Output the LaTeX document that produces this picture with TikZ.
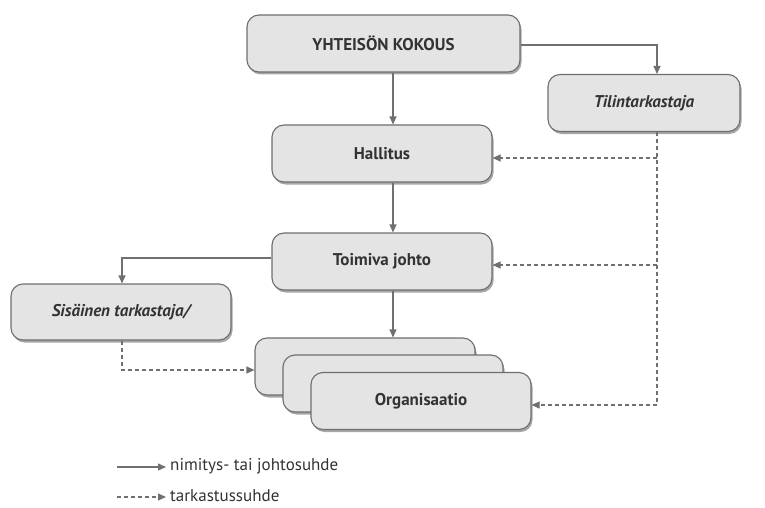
\documentclass[tikz,border=0pt]{standalone}
\usepackage{fontspec}
\setmainfont{PT Sans}
\usetikzlibrary{arrows.meta,shadows}
\definecolor{boxfill}{HTML}{E4E4E4}
\definecolor{boxline}{HTML}{6E6E6E}
\definecolor{linecol}{HTML}{707070}
\definecolor{txt}{HTML}{333333}
\begin{document}
\begin{tikzpicture}[x=1pt,y=-1pt,
  orgbox/.style={draw=boxline,line width=1.1pt,fill=boxfill,rounded corners=12pt,
    minimum width=220pt,minimum height=57pt,inner sep=0pt,text=txt,font=\fontsize{17}{20}\selectfont\bfseries,
    drop shadow={shadow xshift=1.5pt,shadow yshift=-2.5pt,opacity=0.35,fill=black}},
  conn/.style={draw=linecol,line width=1.1pt,-{Triangle[length=8pt,width=7pt]}},
  dconn/.style={conn,dashed,dash pattern=on 4pt off 3pt}]
\useasboundingbox (0,0) rectangle (765,508);
\node[orgbox,minimum width=273pt] (yk) at (383.5,43.5) {YHTEISÖN KOKOUS};
\node[orgbox,minimum width=192pt,font=\fontsize{17}{20}\selectfont\bfseries\itshape] (tt) at (644,103) {Tilintarkastaja};
\node[orgbox] (hal) at (382,153.5) {Hallitus};
\node[orgbox] (tj) at (382,261.5) {Toimiva johto};
\node[orgbox,minimum width=220pt,minimum height=56pt,font=\fontsize{17}{20}\selectfont\bfseries\itshape] (st) at (121,312) {Sisäinen tarkastaja/};
\node[orgbox] (o1) at (365,366.5) {};
\node[orgbox] (o2) at (393,383.5) {};
\node[orgbox] (o3) at (421,401) {Organisaatio};
% solid connectors
\draw[conn] (yk.south -| 393,0) -- (hal.north -| 393,0);
\draw[conn] (hal.south -| 393,0) -- (tj.north -| 393,0);
\draw[conn] (tj.south -| 393,0) -- (o1.north -| 393,0);
\draw[conn] (yk.east |- 0,45) -| (tt.north -| 657,0);
\draw[conn] (tj.west |- 0,258) -| (st.north -| 122,0);
% dashed connectors
\coordinate (dv) at (657,405);
\draw[dconn] (tt.south -| 657,0) -- (dv) -- (o3.east |- dv);
\draw[dconn] (657,158) -- (hal.east |- 0,158);
\draw[dconn] (657,265) -- (tj.east |- 0,265);
\draw[dconn] (st.south -| 122,0) |- (o1.west |- 0,370);
% legend
\coordinate (l1a) at (117,467);
\coordinate (l1b) at (166,467);
\coordinate (l2a) at (117,497);
\coordinate (l2b) at (166,497);
\draw[conn] (l1a) -- (l1b);
\draw[dconn] (l2a) -- (l2b);
\node[anchor=west,text=txt,font=\fontsize{17}{20}\selectfont,inner sep=0pt] (t1) at (170,466) {nimitys- tai johtosuhde};
\node[anchor=west,text=txt,font=\fontsize{17}{20}\selectfont,inner sep=0pt] (t2) at (170,496) {tarkastussuhde};
\end{tikzpicture}
\end{document}
